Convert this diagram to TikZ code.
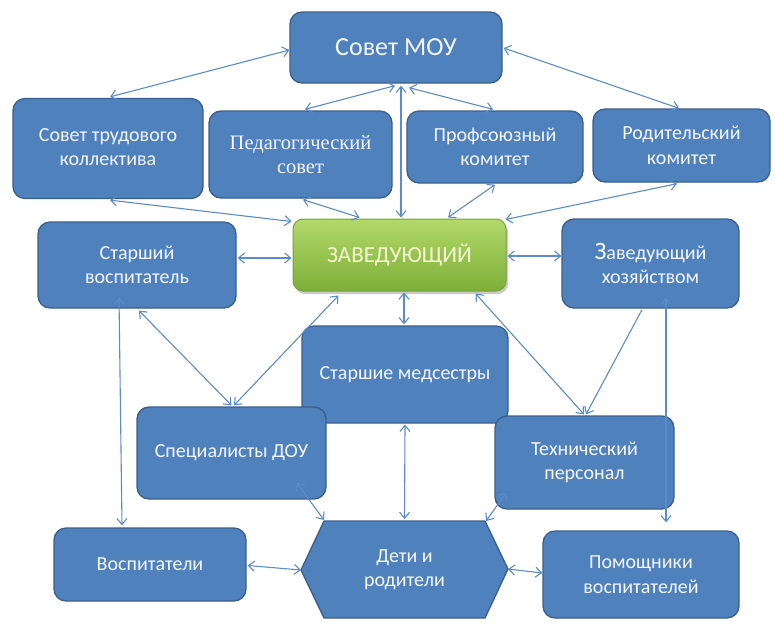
\documentclass[tikz,border=0pt]{standalone}
\usepackage{fontspec}
\setmainfont{Carlito}
\newfontfamily\serifru{Liberation Serif}
\usetikzlibrary{arrows.meta,calc,shadows}
\definecolor{boxblue}{HTML}{4F81BD}
\definecolor{boxedge}{HTML}{3A5F8C}
\definecolor{arrowblue}{HTML}{5B8BCB}
\definecolor{greentop}{HTML}{B2D96A}
\definecolor{greenbot}{HTML}{7DAE38}
\definecolor{greenedge}{HTML}{7AA43A}
\definecolor{paletext}{HTML}{F4F7D2}
\definecolor{boxtext}{HTML}{F4F6FA}
\tikzset{
  bluebox/.style={draw=boxedge, line width=1.3pt, fill=boxblue, rounded corners=12pt,
    text=boxtext, align=center, font=\fontsize{20}{24.5}\selectfont, inner sep=0pt},
  greenbox/.style={draw=greenedge, line width=1pt, rounded corners=10pt,
    top color=greentop, bottom color=greenbot, text=paletext, align=center,
    font=\fontsize{23}{26}\selectfont, inner sep=0pt,
    drop shadow={shadow xshift=2pt, shadow yshift=-3pt, opacity=0.35, fill=black!60}},
  link/.style={draw=arrowblue, line width=1.1pt,
    {Straight Barb[length=6pt,width=10pt]}-{Straight Barb[length=6pt,width=10pt]}},
  onelink/.style={draw=arrowblue, line width=1.1pt, -{Straight Barb[length=6pt,width=10pt]}}
}
\begin{document}
\begin{tikzpicture}[x=1pt,y=-1pt]
\useasboundingbox (0,0) rectangle (775,640);
% top row
\node[bluebox, minimum width=212pt, minimum height=71pt, font=\fontsize{26}{30}\selectfont] (moy) at (396,47.5) {Совет МОУ};
\node[bluebox, minimum width=190pt, minimum height=100pt] (stk) at (108,148.5) {\raisebox{-5pt}{\begin{tabular}{@{}c@{}}Совет трудового\\коллектива\end{tabular}}};
\node[bluebox, minimum width=183pt, minimum height=87pt, font=\serifru\fontsize{20.5}{24.5}\selectfont] (ped) at (300.5,154.5) {Педагогический\\совет};
\node[bluebox, minimum width=176pt, minimum height=72pt] (prof) at (495,147) {Профсоюзный\\комитет};
\node[bluebox, minimum width=177pt, minimum height=73pt] (rod) at (681.5,145.5) {Родительский\\комитет};
% middle row
\node[greenbox, minimum width=213pt, minimum height=72pt] (zav) at (399.5,255) {ЗАВЕДУЮЩИЙ};
\node[bluebox, minimum width=198pt, minimum height=86pt] (sv) at (137,265) {Старший\\воспитатель};
\node[bluebox, minimum width=177pt, minimum height=89pt] (zh) at (650.5,263.5) {{\fontsize{25}{24}\selectfont З}аведующий\\хозяйством};
% lower
\node[bluebox, minimum width=206pt, minimum height=97pt] (med) at (405,374.5) {\raisebox{-2pt}{Старшие медсестры}};
\node[bluebox, minimum width=189pt, minimum height=92pt] (spec) at (231.5,453) {Специалисты ДОУ};
\node[bluebox, minimum width=179pt, minimum height=93pt] (tech) at (584.5,462.5) {Технический\\персонал};
\node[bluebox, minimum width=192pt, minimum height=73pt] (vosp) at (150,564.5) {Воспитатели};
\node[bluebox, minimum width=196pt, minimum height=87pt] (pom) at (641,574.5) {Помощники\\воспитателей};
% hexagon
\coordinate (detiW) at (301,570);
\coordinate (detiNW) at (324,521);
\coordinate (detiNE) at (485,521);
\coordinate (detiE) at (508,569);
\coordinate (detiSE) at (485,618);
\coordinate (detiSW) at (324,618);
\draw[draw=boxedge, line width=1.3pt, fill=boxblue, line join=round]
  (detiW) -- (detiNW) -- (detiNE) -- (detiE) -- (detiSE) -- (detiSW) -- cycle;
\node[text=boxtext, align=center, font=\fontsize{20}{24.5}\selectfont, inner sep=0pt] (deti) at (404.5,569.5) {Дети и\\родители};
% connectors
\draw[link] ($(moy.west)+(0,2.5)$) -- ($(stk.north)+(2,-1)$);
\draw[link] ($(moy.south)+(-1,2)$) -- ($(ped.north)+(4.5,-1)$);
\draw[link] ($(moy.south)+(5,2)$) -- ($(zav.north)+(1.5,-1)$);
\draw[link] ($(moy.south)+(13,4)$) -- ($(prof.north)+(-2,-1)$);
\draw[link] ($(moy.east)+(1,0.5)$) -- ($(rod.north)+(-2.5,0)$);
\draw[link] ($(stk.south)+(2,1)$) -- ($(zav.north west)+(-1,3)$);
\draw[link] ($(ped.south)+(2.5,1)$) -- ($(zav.north)+(-40,-1)$);
\draw[link] ($(prof.south)+(0,1)$) -- ($(zav.north)+(48.5,-1)$);
\draw[link] ($(rod.south)+(-4.5,1)$) -- ($(zav.north east)+(-1,1)$);
\draw[link] ($(sv.east)+(1,-7)$) -- ($(zav.west)+(-1,3)$);
\draw[link] ($(zav.east)+(1,1)$) -- ($(zh.west)+(0,-7.5)$);
\draw[link] ($(zav.south)+(4.5,1)$) -- ($(med.north)+(-1,-1)$);
\draw[link] ($(sv.south)+(2,2)$) -- ($(spec.north)+(0,-1)$);
\draw[link] ($(zav.south west)+(46,4)$) -- ($(spec.north)+(2.5,-1)$);
\draw[link] ($(zav.south east)+(-31,2)$) -- ($(tech.north)+(-0.5,-1)$);
\draw[onelink] ($(zh.south)+(-8.5,1)$) -- ($(tech.north)+(1.5,-1)$);
\draw[link] ($(zh.south)+(15.5,-11)$) -- ($(pom.north)+(25,-8)$);
\draw[link] ($(sv.south)+(-18,-11)$) -- ($(vosp.north)+(-28,-2)$);
\draw[link] ($(med.south)+(0,1)$) -- ($(detiNW)!0.5!(detiNE)+(0,-2)$);
\draw[link] ($(spec.south east)+(-30,-17)$) -- ($(detiNW)+(0,-1)$);
\draw[link] ($(tech.south west)+(12,-17)$) -- ($(detiNE)+(1,0)$);
\draw[link] ($(vosp.east)+(1,1)$) -- (detiW);
\draw[link] (detiE) -- ($(pom.west)+(0,-1.5)$);
\end{tikzpicture}
\end{document}
